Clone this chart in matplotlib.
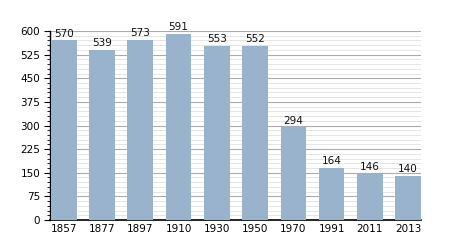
import matplotlib
matplotlib.use('Agg')
import matplotlib.pyplot as plt
from matplotlib.ticker import MultipleLocator

# Data
years = ['1857', '1877', '1897', '1910', '1930', '1950', '1970', '1991', '2011', '2013']
population = [570, 539, 573, 591, 553, 552, 294, 164, 146, 140]

bar_colr = '#99b3cc'

fig = plt.figure(figsize=(4.5, 2.5), dpi=100)
ax = fig.add_axes([0.111, 0.12, 0.825, 0.756])

x = range(len(years))
bars = ax.bar(x, population, width=0.67, color=bar_colr, zorder=3)

for i, v in enumerate(population):
    ax.text(i, v + 6, str(v), ha='center', va='bottom', fontsize=7.5, color='#111111', zorder=4)

ax.set_xlim(-0.36, len(years) - 0.66)
ax.set_ylim(0, 600)
ax.set_xticks(list(x))
ax.set_xticklabels(years)

# grid lines
ax.yaxis.set_major_locator(MultipleLocator(75))
ax.yaxis.set_minor_locator(MultipleLocator(15))
ax.grid(which='major', axis='y', color='#ababab', linewidth=0.8, zorder=1)
ax.grid(which='minor', axis='y', color='#e0e0e0', linewidth=0.6, zorder=0)

for s in ['top', 'right']:
    ax.spines[s].set_visible(False)
ax.spines['left'].set_linewidth(1.0)
ax.spines['bottom'].set_linewidth(1.2)

ax.tick_params(axis='x', length=0, labelsize=7.5, pad=3)
ax.tick_params(axis='y', which='major', length=4, width=0.8, labelsize=7.5, pad=3)
ax.tick_params(axis='y', which='minor', length=2, width=0.6)

fig.savefig('out.png', dpi=100)
